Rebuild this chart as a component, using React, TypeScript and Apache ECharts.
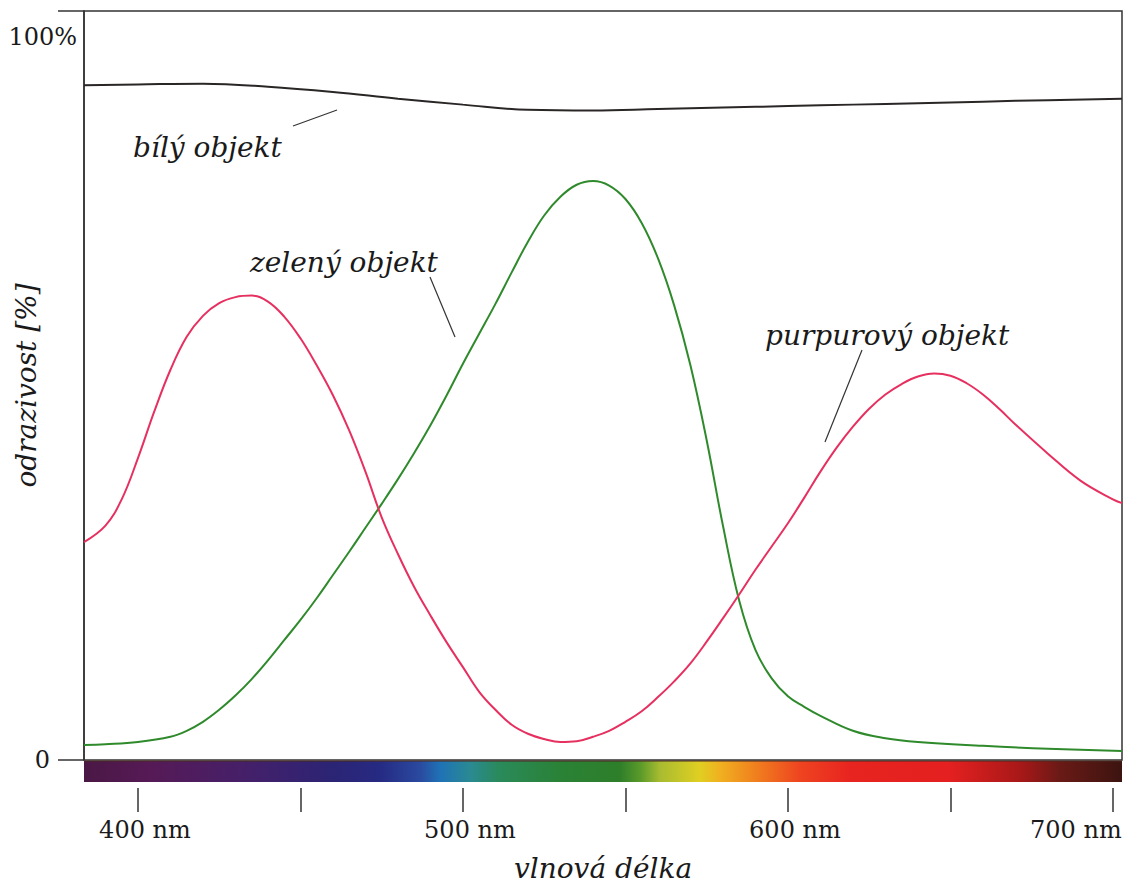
import React, { useEffect, useRef } from "react";
import * as echarts from "echarts";

// Reflectance curves (wavelength in nm, reflectance in %)
const WHITE_NM = [383.4, 400, 420, 440, 460, 480, 500, 520, 540, 560, 580, 600, 620, 640, 660, 680, 702.8];
const WHITE_PCT = [90.1, 90.2, 90.3, 89.9, 89.2, 88.3, 87.5, 86.8, 86.7, 86.9, 87.1, 87.3, 87.5, 87.7, 87.9, 88.1, 88.3];

const GREEN_NM = [
  383.4, 390, 400, 410, 415, 420, 425, 430, 435, 440, 445, 450, 455, 460, 465, 470, 475, 480, 485, 490,
  495, 500, 505, 510, 515, 520, 525, 530, 535, 540, 545, 550, 555, 560, 565, 570, 575, 580, 585, 590,
  595, 600, 605, 610, 620, 630, 640, 660, 680, 702.8,
];
const GREEN_PCT = [
  2.0, 2.1, 2.4, 3.1, 3.9, 5.1, 6.7, 8.6, 10.8, 13.3, 16.0, 18.7, 21.6, 24.7, 27.8, 31.0, 34.2, 37.5, 41.0, 44.7,
  48.7, 52.9, 56.9, 60.9, 65.1, 69.2, 72.7, 75.2, 76.8, 77.3, 76.7, 74.9, 71.7, 67.0, 60.7, 52.7, 42.7, 31.3, 21.3, 14.7,
  10.9, 8.5, 7.1, 5.9, 3.9, 2.9, 2.4, 1.9, 1.5, 1.2,
];

const MAGENTA_NM = [
  383.4, 390, 395, 400, 405, 410, 415, 420, 425, 430, 435, 440, 445, 450, 455, 460, 465, 470, 475, 480,
  485, 490, 495, 500, 505, 510, 515, 520, 525, 530, 535, 540, 545, 550, 555, 560, 565, 570, 575, 580,
  585, 590, 595, 600, 605, 610, 615, 620, 625, 630, 635, 640, 645, 650, 655, 660, 665, 670, 680, 690,
  700, 702.8,
];
const MAGENTA_PCT = [
  29.1, 31.3, 34.8, 40.3, 46.5, 52.1, 56.5, 59.3, 61.0, 61.8, 62.0, 61.2, 59.2, 56.3, 52.7, 48.7, 44.0, 38.5, 32.4, 27.5,
  23.1, 19.3, 15.7, 12.4, 9.1, 6.7, 4.7, 3.5, 2.8, 2.4, 2.5, 3.1, 3.9, 5.1, 6.5, 8.4, 10.5, 12.9, 15.8, 18.9,
  22.1, 25.4, 28.5, 31.6, 35.0, 38.5, 41.7, 44.5, 46.9, 48.8, 50.2, 51.2, 51.6, 51.3, 50.3, 48.8, 46.9, 44.8, 40.9, 37.3,
  34.8, 34.3,
];

// Axis ticks and labels
const NM_TICKS = [400, 450, 500, 550, 600, 650, 700];
const NM_LABELS = [400, 500, 600, 700];
const PCT_TICKS = [0, 100];

const SERIF = '"DejaVu Serif", "Liberation Serif", serif';
const INK = "#1a1a1a";

const pairs = (xs: number[], ys: number[]) => xs.map((x, i) => [x, ys[i]]);

export default function App() {
  const ref = useRef<HTMLDivElement>(null);

  useEffect(() => {
    if (!ref.current) return;
    const chart = echarts.init(ref.current, null, { renderer: "svg" });

    const left = 84;
    const right = 7;
    const top = 11;
    const bottom = 123;
    const plotW = 1129 - left - right;
    const axisY = 883 - bottom;

    const spectrum = new echarts.graphic.LinearGradient(0, 0, 1, 0, [
      { offset: 0, color: "#4a1845" },
      { offset: 0.064, color: "#561a56" },
      { offset: 0.16, color: "#44206a" },
      { offset: 0.237, color: "#2c2474" },
      { offset: 0.285, color: "#262a82" },
      { offset: 0.324, color: "#2a4aa0" },
      { offset: 0.343, color: "#1f72b6" },
      { offset: 0.372, color: "#2a8a92" },
      { offset: 0.4, color: "#2a8a5a" },
      { offset: 0.459, color: "#2a8236" },
      { offset: 0.516, color: "#2e7e2a" },
      { offset: 0.536, color: "#5a9a2a" },
      { offset: 0.555, color: "#a8bc30" },
      { offset: 0.593, color: "#e0cf22" },
      { offset: 0.613, color: "#f0b020" },
      { offset: 0.651, color: "#f07a1e" },
      { offset: 0.69, color: "#ee4420" },
      { offset: 0.738, color: "#e82420" },
      { offset: 0.834, color: "#e42020" },
      { offset: 0.902, color: "#a81818" },
      { offset: 0.94, color: "#6a1a16" },
      { offset: 1, color: "#3c1410" },
    ]);

    const italic = `italic 28px ${SERIF}`;
    const nameStyle = { fontFamily: SERIF, fontStyle: "italic", fontSize: 28, color: INK };

    chart.setOption({
      animation: false,
      backgroundColor: "#ffffff",
      grid: {
        left,
        right,
        top,
        bottom,
        containLabel: false,
        outerBoundsMode: "none",
        show: true,
        borderColor: "#333",
        borderWidth: 1.5,
        backgroundColor: "transparent",
      },
      xAxis: {
        type: "value",
        min: 383.4,
        max: 702.8,
        offset: 28,
        axisLine: { show: true, onZero: false, lineStyle: { color: "#333", opacity: 0 } },
        axisTick: {
          show: true,
          customValues: NM_TICKS,
          length: 24,
          lineStyle: { color: "#333", width: 1.5 },
        },
        axisLabel: {
          customValues: NM_LABELS,
          margin: 30,
          color: INK,
          fontFamily: SERIF,
          fontSize: 24,
          formatter: (v: number) => (v === 700 ? `{r|${v} nm}` : `{n|${v} nm}`),
          rich: {
            n: { fontFamily: SERIF, fontSize: 24, color: INK, padding: [0, 0, 0, 14] },
            r: { fontFamily: SERIF, fontSize: 24, color: INK, padding: [0, 74, 0, 0] },
          },
        },
        splitLine: { show: false },
        name: "vlnová délka",
        nameLocation: "middle",
        nameGap: 66,
        nameMoveOverlap: false,
        nameTextStyle: nameStyle,
      },
      yAxis: {
        type: "value",
        min: 0,
        max: 100,
        axisLine: { show: true, lineStyle: { color: "#333", width: 1.5 } },
        axisTick: {
          show: true,
          customValues: PCT_TICKS,
          length: 26,
          lineStyle: { color: "#333", width: 1.5 },
        },
        axisLabel: {
          customValues: PCT_TICKS,
          margin: 7,
          color: INK,
          formatter: (v: number) => (v === 100 ? "{t|100%}" : "{z|0}"),
          rich: {
            t: { fontFamily: SERIF, fontSize: 24, color: INK, padding: [52, 0, 0, 0] },
            z: { fontFamily: SERIF, fontSize: 24, color: INK, padding: [0, 27, 0, 0] },
          },
        },
        splitLine: { show: false },
        name: "odrazivost [%]",
        nameLocation: "middle",
        nameGap: 44,
        nameRotate: 90,
        nameMoveOverlap: false,
        nameTextStyle: nameStyle,
      },
      series: [
        {
          name: "bílý objekt",
          type: "line",
          data: pairs(WHITE_NM, WHITE_PCT),
          showSymbol: false,
          smooth: 0.4,
          lineStyle: { color: "#2a2626", width: 2 },
        },
        {
          name: "zelený objekt",
          type: "line",
          data: pairs(GREEN_NM, GREEN_PCT),
          showSymbol: false,
          smooth: 0.4,
          lineStyle: { color: "#2f8a2c", width: 2 },
        },
        {
          name: "purpurový objekt",
          type: "line",
          data: pairs(MAGENTA_NM, MAGENTA_PCT),
          showSymbol: false,
          smooth: 0.4,
          lineStyle: { color: "#e6305f", width: 2 },
        },
      ],
      graphic: [
        {
          type: "rect",
          shape: { x: left, y: axisY + 1, width: plotW, height: 21 },
          style: { fill: spectrum },
          z: 10,
        },
        {
          type: "line",
          shape: { x1: left, y1: axisY + 1, x2: left + plotW, y2: axisY + 1 },
          style: { stroke: "#4a2a20", lineWidth: 1.2 },
          z: 11,
        },
        // curve captions with leader lines
        {
          type: "text",
          style: { text: "bílý objekt", x: 133, y: 147, font: italic, fill: INK, textVerticalAlign: "middle" },
        },
        {
          type: "line",
          shape: { x1: 293, y1: 126, x2: 337, y2: 110 },
          style: { stroke: "#333", lineWidth: 1.2 },
        },
        {
          type: "text",
          style: { text: "zelený objekt", x: 250, y: 262, font: italic, fill: INK, textVerticalAlign: "middle" },
        },
        {
          type: "line",
          shape: { x1: 430, y1: 277, x2: 455, y2: 337 },
          style: { stroke: "#333", lineWidth: 1.2 },
        },
        {
          type: "text",
          style: { text: "purpurový objekt", x: 765, y: 335, font: italic, fill: INK, textVerticalAlign: "middle" },
        },
        {
          type: "line",
          shape: { x1: 862, y1: 350, x2: 825, y2: 442 },
          style: { stroke: "#333", lineWidth: 1.2 },
        },
      ],
    });

    return () => chart.dispose();
  }, []);

  return (
    <div
      ref={ref}
      style={{ position: "absolute", left: 0, top: 0, width: 1129, height: 883 }}
    />
  );
}
